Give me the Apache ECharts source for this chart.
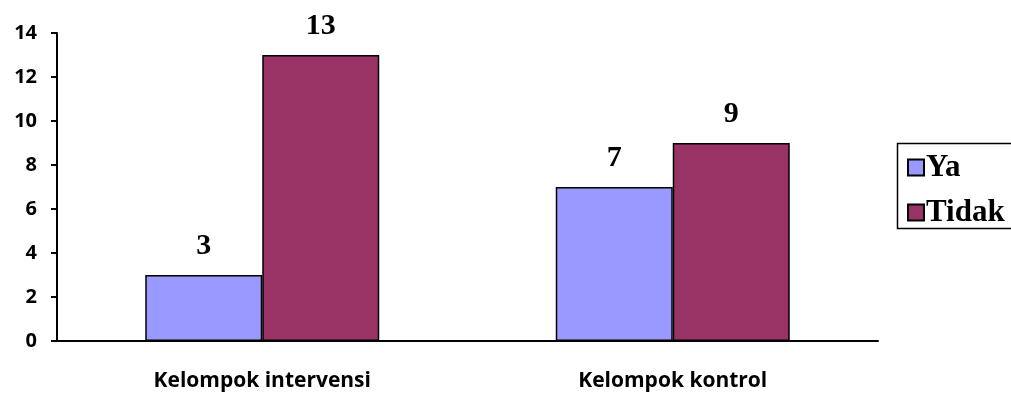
<!DOCTYPE html>
<html>
<head>
<meta charset="utf-8">
<script src="https://cdn.jsdelivr.net/npm/echarts@6/dist/echarts.min.js"></script>
<style>
  html, body { margin: 0; padding: 0; background: #fff; overflow: hidden; }
  #chart { width: 1011px; height: 394px; }
</style>
</head>
<body>
<div id="chart"></div>
<script>
// Jawaban per kelompok
const categories = ['Kelompok intervensi', 'Kelompok kontrol'];
const seriesNames = ['Ya', 'Tidak'];
const yaValues = [3, 7];
const tidakValues = [13, 9];
const yTicks = { min: 0, max: 14, interval: 2 };

const chart = echarts.init(document.getElementById('chart'));

const serif = '"Liberation Serif", "Times New Roman", serif';
const sans = '"Open Sans", "Noto Sans", sans-serif';

const labelStyle = {
  show: true,
  position: 'top',
  distance: 14,
  fontFamily: serif,
  fontWeight: 'bold',
  fontSize: 30,
  color: '#000'
};

chart.setOption({
  animation: false,
  grid: { left: 57, right: 133, top: 33, bottom: 53 },
  // legend frame: open on the right, running off the canvas
  graphic: [{
    type: 'polyline',
    shape: { points: [[1030, 143.5], [897.5, 143.5], [897.5, 228.5], [1030, 228.5]] },
    style: { fill: 'none', stroke: '#000', lineWidth: 1.5 },
    silent: true
  }],
  legend: {
    orient: 'vertical',
    left: 897,
    top: 143,
    data: seriesNames,
    icon: 'rect',
    itemWidth: 16,
    itemHeight: 16,
    itemGap: 14,
    padding: [9, 10, 6, 10],
    textStyle: {
      fontFamily: serif,
      fontWeight: 'bold',
      fontSize: 31,
      lineHeight: 29,
      color: '#000',
      padding: [0, 0, 0, -3]
    }
  },
  xAxis: {
    type: 'category',
    data: categories,
    axisLine: { lineStyle: { color: '#000', width: 2 } },
    axisTick: { length: 7, lineStyle: { color: '#000', width: 2 } },
    axisLabel: {
      margin: 30,
      fontFamily: sans,
      fontWeight: 'bold',
      fontSize: 21,
      color: '#000'
    }
  },
  yAxis: {
    type: 'value',
    min: yTicks.min,
    max: yTicks.max,
    interval: yTicks.interval,
    splitLine: { show: false },
    axisLine: { show: true, lineStyle: { color: '#000', width: 2 } },
    axisTick: { show: true, length: 6, lineStyle: { color: '#000', width: 2 } },
    axisLabel: {
      margin: 20,
      fontFamily: sans,
      fontWeight: 'bold',
      fontSize: 20,
      color: '#000'
    }
  },
  series: [
    {
      name: seriesNames[0],
      type: 'bar',
      data: yaValues,
      barWidth: 117,
      barGap: '0%',
      itemStyle: { color: '#9999FF', borderColor: '#000', borderWidth: 1.5 },
      label: labelStyle
    },
    {
      name: seriesNames[1],
      type: 'bar',
      data: tidakValues,
      barWidth: 117,
      barGap: '0%',
      itemStyle: { color: '#993366', borderColor: '#000', borderWidth: 1.5 },
      label: labelStyle
    }
  ]
});
</script>
</body>
</html>
